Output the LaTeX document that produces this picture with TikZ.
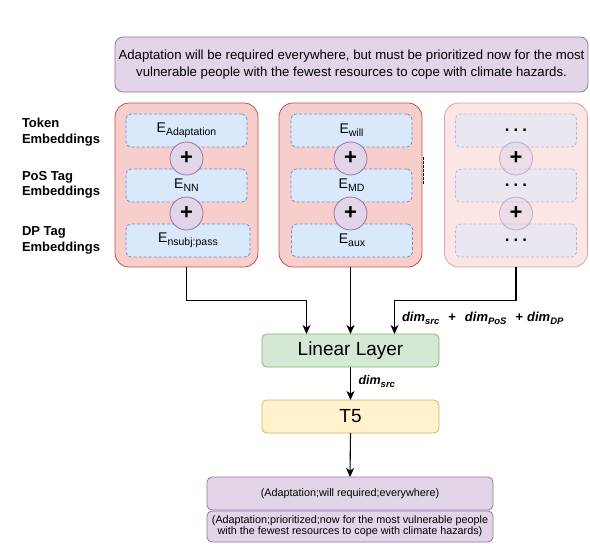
\documentclass[tikz,border=0pt]{standalone}
\usepackage{fontspec}
\setmainfont{Liberation Sans}
\usetikzlibrary{arrows.meta}
\definecolor{contF}{HTML}{F8CECC}
\definecolor{contB}{HTML}{B85450}
\definecolor{embF}{HTML}{DAE8FC}
\definecolor{embB}{HTML}{6C8EBF}
\definecolor{purF}{HTML}{E1D5E7}
\definecolor{purB}{HTML}{9673A6}
\definecolor{grnF}{HTML}{D5E8D4}
\definecolor{grnB}{HTML}{82B366}
\definecolor{ylwF}{HTML}{FFF2CC}
\definecolor{ylwB}{HTML}{D6B656}
\newcommand{\fs}[1]{\fontsize{#1}{#1}\selectfont}
\newcommand{\Emb}[1]{{\fs{14}E}{\fs{10.5}\raisebox{-3pt}{#1}}}
\newcommand{\Dim}[1]{\textbf{\textit{dim}}{\fs{9.5}\raisebox{-3pt}{\textbf{\textit{#1}}}}}
\newcommand{\Dots}{\fs{17}\bfseries .\hspace{4pt}.\hspace{4pt}.}
\tikzset{
  every node/.style={inner sep=0pt, outer sep=0pt},
  cont/.style={draw=contB, fill=contF, rounded corners=14pt, minimum width=143pt, minimum height=164pt, line width=0.8pt},
  emb/.style={draw=embB, fill=embF, dash pattern=on 3pt off 2pt, rounded corners=5pt, minimum width=121pt, minimum height=33pt, line width=0.8pt},
  plusc/.style={circle, draw=purB, fill=purF, minimum size=33pt, line width=0.8pt, font=\fs{22}\bfseries},
  faded/.style={fill opacity=0.5, draw opacity=0.5, text opacity=1},
  pbox/.style={draw=purB, fill=purF, rounded corners=5pt, line width=0.8pt, align=center},
  lbl/.style={anchor=west, align=left, font=\fs{13}\bfseries},
  arr/.style={line width=1.1pt, -{Stealth[length=9pt,width=8pt,inset=2.5pt]}},
}
\begin{document}
\begin{tikzpicture}[x=1pt,y=-1pt]
\useasboundingbox (0,0) rectangle (590,544);
% top sentence
\node[pbox, rounded corners=8pt, minimum width=473pt, minimum height=55pt, font=\fs{13.2}, align=center] (sent) at (351.5,64.5)
  {Adaptation will be required everywhere, but must be prioritized now for the most\\[4.5pt]vulnerable people with the fewest resources to cope with climate hazards.};
% row labels
\node[lbl] (l1) at (22,132) {Token\\[2.5pt]Embeddings};
\node[lbl] (l2) at (22,185) {PoS Tag\\[2.5pt]Embeddings};
\node[lbl] (l3) at (22,240.5) {DP Tag\\[2.5pt]Embeddings};
% container 1
\node[cont] (c1) at (186.5,185) {};
\node[emb] (e11) at (186.5,130.5) {\Emb{Adaptation}};
\node[emb] (e12) at (186.5,185.5) {\Emb{NN}};
\node[emb, minimum width=124pt] (e13) at (188,240.5) {\Emb{nsubj:pass}};
\node[plusc] (p11) at (186.5,158.5) {+};
\node[plusc] (p12) at (186.5,213.5) {+};
% container 2
\node[cont] (c2) at (350.5,185) {};
\node[emb] (e21) at (351.5,130.5) {\Emb{will}};
\node[emb] (e22) at (351.5,185.5) {\Emb{MD}};
\node[emb] (e23) at (352,240.5) {\Emb{aux}};
\node[plusc] (p21) at (350.5,158.5) {+};
\node[plusc] (p22) at (350.5,213.5) {+};
\draw[line width=1.3pt, dash pattern=on 2.5pt off 1.5pt] (423.5,157) -- (423.5,185);
% container 3 (faded)
\node[cont, faded] (c3) at (516,185) {};
\node[emb, faded] (e31) at (516,130.5) {\Dots};
\node[emb, faded] (e32) at (516,185.5) {\Dots};
\node[emb, faded] (e33) at (516,240.5) {\Dots};
\node[plusc, faded] (p31) at (516,158.5) {+};
\node[plusc, faded] (p32) at (516,213.5) {+};
% linear layer and T5
\node[draw=grnB, fill=grnF, rounded corners=5pt, line width=0.8pt, minimum width=177pt, minimum height=33pt, font=\fs{19}] (lin) at (350.5,350.5) {Linear Layer};
\node[draw=ylwB, fill=ylwF, rounded corners=5pt, line width=0.8pt, minimum width=177pt, minimum height=33pt, font=\fs{19}] (t5) at (350.5,416.5) {T5};
% outputs
\node[pbox, minimum width=286pt, minimum height=33pt, font=\fs{10.8}] (o1) at (350,493.5) {(Adaptation;will required;everywhere)};
\node[pbox, minimum width=286pt, minimum height=31pt, font=\fs{10.8}] (o2) at (350,526.5) {(Adaptation;prioritized;now for the most vulnerable people\\[0.5pt]with the fewest resources to cope with climate hazards)};
% connectors
\coordinate (j1) at (306.5,300.5);
\coordinate (j3) at (394.5,300.5);
\draw[arr] (c1.south) |- (j1) -- (j1 |- lin.north);
\draw[arr] (c2.south) -- (c2.south |- lin.north);
\draw[arr] (c3.south) |- (j3) -- (j3 |- lin.north);
\draw[arr] (lin.south) -- (t5.north);
\draw[arr] (t5.south) -- (o1.north);
% dimension labels
\node[anchor=west, font=\fs{13}] (d1) at (402,318) {\Dim{src}\hspace{9pt}\textbf{+}\hspace{9pt}\Dim{PoS}\hspace{9pt}\textbf{+}\hspace{4pt}\Dim{DP}};
\node[anchor=west, font=\fs{12.5}] (d2) at (358.5,382) {\Dim{src}};
\end{tikzpicture}
\end{document}
